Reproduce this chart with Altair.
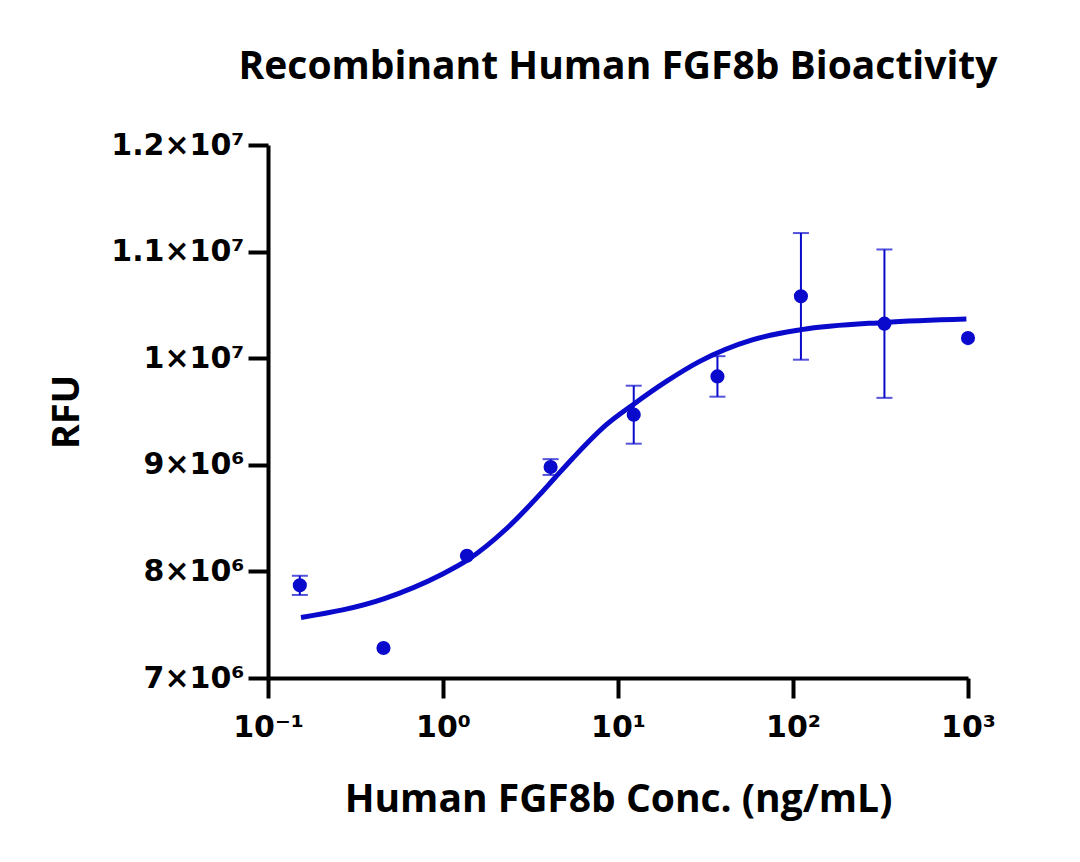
import altair as alt
import pandas as pd

# ---- data ----
conc = [0.152, 0.457, 1.37, 4.12, 12.3, 37.0, 111.0, 333.0, 1000.0]
rfu = [7.869e6, 7.281e6, 8.147e6, 8.979e6, 9.470e6, 9.829e6, 10.580e6, 10.324e6, 10.189e6]
err = [0.09e6, 0.0, 0.0, 0.074e6, 0.272e6, 0.19e6, 0.594e6, 0.696e6, 0.0]

fit_x = [0.1544, 0.4624, 0.957, 1.390, 2.303, 3.569, 4.347, 5.534,
         8.585, 12.18, 18.90, 29.30, 59.1, 111.7, 333.0, 979.0]
fit_y = [7.568e6, 7.745e6, 7.962e6, 8.110e6, 8.400e6, 8.720e6, 8.876e6,
         9.064e6, 9.376e6, 9.564e6, 9.782e6, 9.970e6, 10.174e6, 10.268e6, 10.336e6, 10.368e6]

x_ticks = [0.1, 1, 10, 100, 1000]
x_labels = ["10⁻¹", "10⁰", "10¹", "10²", "10³"]
y_ticks = [7e6, 8e6, 9e6, 1e7, 1.1e7, 1.2e7]
y_labels = ["7×10⁶", "8×10⁶", "9×10⁶", "1×10⁷", "1.1×10⁷", "1.2×10⁷"]

TITLE = "Recombinant Human FGF8b Bioactivity"
X_TITLE = "Human FGF8b Conc. (ng/mL)"
Y_TITLE = "RFU"

BLUE = "#0a0acc"
FONT = "Open Sans"
LABEL_FONT = "DejaVu Sans"


def label_expr(vals, labels):
    expr = "''"
    for v, l in reversed(list(zip(vals, labels))):
        expr = f"(abs(datum.value - {v}) < {v}*1e-6) ? '{l}' : ({expr})"
    return expr


pts = pd.DataFrame({"conc": conc, "rfu": rfu, "err": err})
pts["lo"] = pts["rfu"] - pts["err"]
pts["hi"] = pts["rfu"] + pts["err"]
ebars = pts[pts["err"] > 0]
fit = pd.DataFrame({"conc": fit_x, "rfu": fit_y})

xscale = alt.Scale(type="log", domain=[0.1, 1000], nice=False)
yscale = alt.Scale(domain=[7e6, 1.2e7], nice=False, zero=False)

xaxis = alt.Axis(values=x_ticks, labelExpr=label_expr(x_ticks, x_labels),
                 title=X_TITLE, grid=False, domainColor="black", domainWidth=4,
                 tickColor="black", tickWidth=4, tickSize=20, labelFont=LABEL_FONT,
                 labelFontSize=30, labelFontWeight="bold", labelColor="black",
                 labelPadding=14, titleFont=FONT, titleFontSize=39,
                 titleFontWeight="bold", titleColor="black", titlePadding=38,
                 labelFlush=False)
yaxis = alt.Axis(values=y_ticks, labelExpr=label_expr(y_ticks, y_labels),
                 title=Y_TITLE, grid=False, domainColor="black", domainWidth=4,
                 tickColor="black", tickWidth=4, tickSize=20, labelFont=LABEL_FONT,
                 labelFontSize=30, labelFontWeight="bold", labelColor="black",
                 labelPadding=4, titleFont=FONT, titleFontSize=38,
                 titleFontWeight="bold", titleColor="black", titlePadding=24)

line = alt.Chart(fit).mark_line(color=BLUE, strokeWidth=5, interpolate="monotone").encode(
    x=alt.X("conc:Q", scale=xscale, axis=xaxis),
    y=alt.Y("rfu:Q", scale=yscale, axis=yaxis),
)

rules = alt.Chart(ebars).mark_rule(color=BLUE, strokeWidth=2).encode(
    x=alt.X("conc:Q", scale=xscale),
    y=alt.Y("lo:Q", scale=yscale),
    y2="hi:Q",
)
caps_hi = alt.Chart(ebars).mark_tick(color=BLUE, orient="horizontal", size=16, thickness=2).encode(
    x=alt.X("conc:Q", scale=xscale),
    y=alt.Y("hi:Q", scale=yscale),
)
caps_lo = alt.Chart(ebars).mark_tick(color=BLUE, orient="horizontal", size=16, thickness=2).encode(
    x=alt.X("conc:Q", scale=xscale),
    y=alt.Y("lo:Q", scale=yscale),
)
dots = alt.Chart(pts).mark_point(filled=True, color=BLUE, opacity=1, size=200, shape="circle").encode(
    x=alt.X("conc:Q", scale=xscale),
    y=alt.Y("rfu:Q", scale=yscale),
)

chart = alt.layer(line, rules, caps_hi, caps_lo, dots).properties(
    width=700, height=533,
    title=alt.TitleParams(TITLE, font=FONT, fontSize=39, fontWeight="bold",
                          color="black", anchor="middle", offset=43),
    autosize=alt.AutoSizeParams(type="none"),
    padding={"left": 260, "top": 137, "right": 104, "bottom": 176},
).configure_view(stroke=None)

chart.save("out.html", embed_options={"renderer": "svg", "actions": False})
